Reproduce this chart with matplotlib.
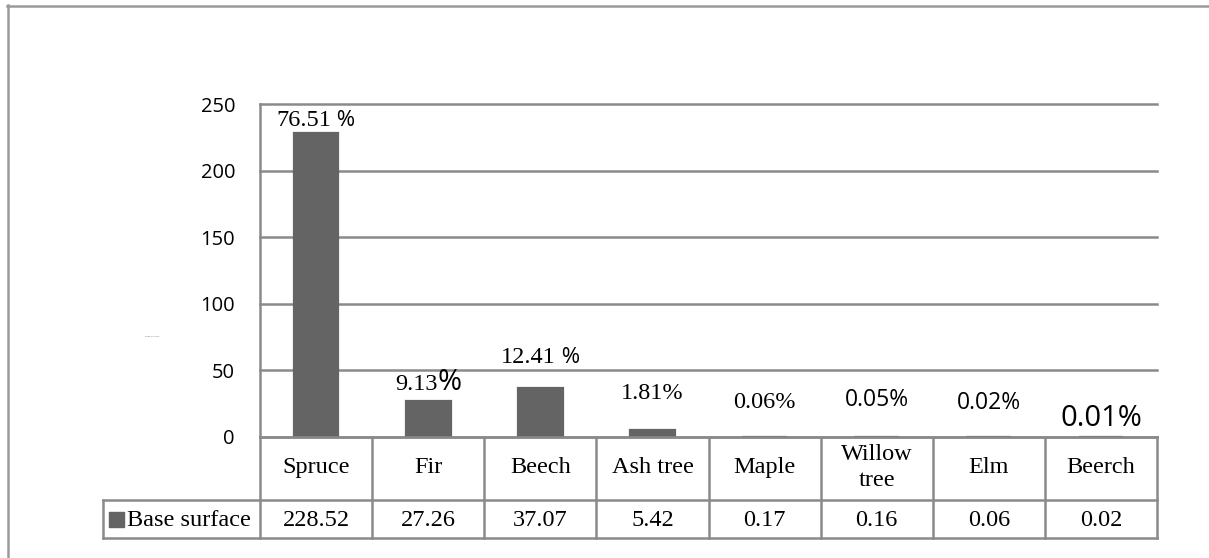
import matplotlib
matplotlib.use("Agg")
import matplotlib.pyplot as plt
from matplotlib.lines import Line2D
from matplotlib.patches import Rectangle
from matplotlib.offsetbox import TextArea, HPacker, AnnotationBbox

# ---- data -------------------------------------------------------------
species = ["Spruce", "Fir", "Beech", "Ash tree", "Maple", "Willow\ntree", "Elm", "Beerch"]
base_surface = [228.52, 27.26, 37.07, 5.42, 0.17, 0.16, 0.06, 0.02]
series_name = "Base surface"
y_ticks = [0, 50, 100, 150, 200, 250]

# ---- style ------------------------------------------------------------
W, H, DPI = 1209, 558, 100
GRID = "#8a8a8a"
FRAME = "#9a9a9a"
BAR = "#646464"
SERIF = "Liberation Serif"
SANS = "Open Sans"
LW = 2.5 * 72 / DPI          # 2.5 px lines
CELL = 17.5                  # table text size

# per-label look: (font kind, gap before %, % size, number size, offset above bar in px)
label_style = [
    ("mixed", " ", 16, 17.5, 12),
    ("mixed", "", 21, 17.5, 18),
    ("mixed", " ", 16, 17.5, 30),
    ("serif", "", 17.5, 17.5, 36),
    ("serif", "", 17.5, 17.5, 34),
    ("sans", "", 16.5, 16.5, 37),
    ("sans", "", 16.5, 16.5, 34),
    ("sans", "", 21, 21, 18),
]

fig = plt.figure(figsize=(W / DPI, H / DPI), dpi=DPI)


def fx(px):
    return px / W


def fy(py):
    return 1 - py / H


def hline(x0, x1, y, color=GRID):
    fig.add_artist(Line2D([fx(x0), fx(x1)], [fy(y), fy(y)], color=color,
                          lw=LW, transform=fig.transFigure, solid_capstyle="projecting"))


def vline(x, y0, y1, color=GRID):
    fig.add_artist(Line2D([fx(x), fx(x)], [fy(y0), fy(y1)], color=color,
                          lw=LW, transform=fig.transFigure, solid_capstyle="projecting"))


# ---- plot area --------------------------------------------------------
ax = fig.add_axes([fx(260), fy(437), fx(1157) - fx(260), (437 - 104) / H])
xs = list(range(len(species)))
ax.bar(xs, base_surface, width=0.4, color=BAR, edgecolor=BAR, linewidth=1.6, zorder=3)
ax.set_xlim(-0.5, len(species) - 0.5)
ax.set_ylim(0, 250)
ax.set_yticks(y_ticks)
ax.set_yticklabels([str(t) for t in y_ticks], fontfamily=SANS, fontsize=14.5)
ax.tick_params(axis="y", length=0, pad=18)
ax.set_xticks([])
for side in ["top", "right", "bottom"]:
    ax.spines[side].set_visible(False)
ax.spines["left"].set_color(GRID)
ax.spines["left"].set_linewidth(LW)
ax.yaxis.grid(True, color=GRID, linewidth=LW)
ax.set_axisbelow(True)
for gl in ax.get_ygridlines():
    gl.set_clip_on(False)

# percentage share labels
total = sum(base_surface)
for i, v in enumerate(base_surface):
    kind, gap, pct_size, num_size, off = label_style[i]
    num = f"{v / total * 100:.2f}"
    if kind == "mixed":
        parts = [TextArea(num, textprops=dict(fontfamily=SERIF, fontsize=num_size)),
                 TextArea(gap + "%", textprops=dict(fontfamily=SANS, fontsize=pct_size))]
    elif kind == "serif":
        parts = [TextArea(num + "%", textprops=dict(fontfamily=SERIF, fontsize=num_size))]
    else:
        parts = [TextArea(num + "%", textprops=dict(fontfamily=SANS, fontsize=num_size))]
    box = HPacker(children=parts, align="baseline", pad=0, sep=0)
    ab = AnnotationBbox(box, (i, v), xybox=(0, off * 72 / DPI), boxcoords="offset points",
                        frameon=False, pad=0, box_alignment=(0.5, 0.5),
                        annotation_clip=False)
    ax.add_artist(ab)

# ---- data table below the axis ----------------------------------------
fig.canvas.draw()
edges_px = [ax.transData.transform((i - 0.5, 0))[0] for i in range(len(species) + 1)]
top_y, mid_y, bot_y = 437, 500, 538
legend_left = 103

hline(edges_px[0], edges_px[-1], top_y)
hline(legend_left, edges_px[-1], mid_y)
hline(legend_left, edges_px[-1], bot_y)
for e in edges_px:
    vline(e, top_y, bot_y)
vline(legend_left, mid_y, bot_y)

for i, name in enumerate(species):
    cx = (edges_px[i] + edges_px[i + 1]) / 2
    fig.text(fx(cx), fy((top_y + mid_y) / 2 - 1), name, ha="center", va="center",
             fontfamily=SERIF, fontsize=CELL, linespacing=1.3)
    fig.text(fx(cx), fy((mid_y + bot_y) / 2 + 1), f"{base_surface[i]:.2f}",
             ha="center", va="center", fontfamily=SERIF, fontsize=CELL)

# legend key inside the table
fig.add_artist(Rectangle((fx(109), fy(527)), fx(15), 15 / H, color=BAR,
                         transform=fig.transFigure))
fig.text(fx(127), fy((mid_y + bot_y) / 2 + 1), series_name, ha="left", va="center",
         fontfamily=SERIF, fontsize=CELL)

# faint axis title
fig.text(fx(145), fy(336), series_name, fontsize=1.6, color="#777777", va="center")

# outer chart border (left and top edges)
vline(8, 5, H + 20, color=FRAME)
hline(7, W + 20, 6, color=FRAME)

fig.savefig("out.png", dpi=DPI)
